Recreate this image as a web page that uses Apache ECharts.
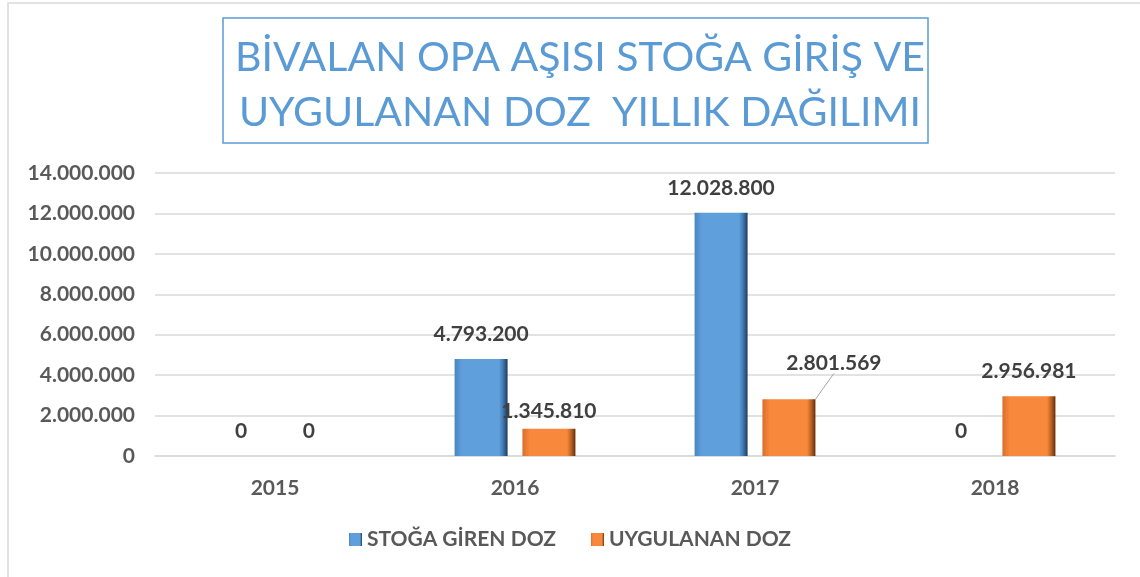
<!DOCTYPE html>
<html>
<head>
    <meta charset="utf-8">
    <script src="https://cdn.jsdelivr.net/npm/echarts@6/dist/echarts.min.js"></script>
</head>
<body style="margin:0;background:#fff;">
    <div id="main" style="width:1140px;height:577px;"></div>
    <script type="text/javascript">
        // veriler
        var years = ['2015', '2016', '2017', '2018'];
        var stogaGiren = [0, 4793200, 12028800, 0];
        var uygulanan = [0, 1345810, 2801569, 2956981];
        var seriesNames = ['STOĞA GİREN DOZ', 'UYGULANAN DOZ'];
        var titleLines = ['BİVALAN OPA AŞISI STOĞA GİRİŞ VE', 'UYGULANAN DOZ  YILLIK DAĞILIMI'];

        var myChart = echarts.init(document.getElementById('main'));

        function dotted(v) {
            return String(Math.round(v)).replace(/\B(?=(\d{3})+(?!\d))/g, '.');
        }

        function bevel(c0, c1, c2, c3) {
            return new echarts.graphic.LinearGradient(0, 0, 1, 0, [
                { offset: 0, color: c0 },
                { offset: 0.14, color: c1 },
                { offset: 0.84, color: c1 },
                { offset: 0.93, color: c2 },
                { offset: 1, color: c3 }
            ]);
        }

        var labelStyle = {
            show: true,
            position: 'top',
            distance: 14,
            fontFamily: 'Lato',
            fontWeight: 'bold',
            fontSize: 21,
            color: '#404040',
            formatter: function (p) { return dotted(p.value); }
        };

        // 2017 etiketi kenara kaydırılmış, çizgili
        var uygulananData = uygulanan.map(function (v, i) {
            if (i === 2) {
                return { value: v, labelLine: { show: true, lineStyle: { color: '#a6a6a6', width: 1 } } };
            }
            return v;
        });

        option = {
            animation: false,
            backgroundColor: '#fff',
            graphic: [{
                type: 'rect',
                shape: { x: 8, y: 3, width: 1200, height: 700 },
                style: { fill: 'none', stroke: '#d9d9d9', lineWidth: 1.5 }
            }, {
                type: 'rect',
                shape: { x: 223, y: 18, width: 705, height: 125 },
                style: { fill: 'none', stroke: '#5b9bd5', lineWidth: 1.5 }
            }],
            title: {
                text: titleLines.join('\n'),
                left: 575,
                top: 25,
                textAlign: 'center',
                textStyle: {
                    fontFamily: 'Lato',
                    fontWeight: 'normal',
                    fontSize: 41,
                    lineHeight: 55,
                    color: '#5b9bd5'
                }
            },
            legend: {
                data: seriesNames,
                bottom: 22,
                left: 'center',
                itemWidth: 13,
                itemHeight: 13,
                itemGap: 35,
                icon: 'rect',
                textStyle: {
                    fontFamily: 'Lato',
                    fontWeight: 'bold',
                    fontSize: 21,
                    color: '#595959'
                }
            },
            grid: {
                left: 155,
                right: 25,
                top: 173,
                bottom: 121
            },
            xAxis: {
                type: 'category',
                data: years,
                axisTick: { show: false },
                axisLine: { lineStyle: { color: '#d9d9d9', width: 1.5 } },
                axisLabel: {
                    margin: 22,
                    fontFamily: 'Lato',
                    fontWeight: 'bold',
                    fontSize: 21,
                    color: '#595959'
                }
            },
            yAxis: {
                type: 'value',
                min: 0,
                max: 14000000,
                interval: 2000000,
                axisLine: { show: false },
                axisTick: { show: false },
                splitLine: { lineStyle: { color: '#d9d9d9', width: 1.5 } },
                axisLabel: {
                    margin: 20,
                    fontFamily: 'Lato',
                    fontWeight: 'bold',
                    fontSize: 21,
                    color: '#595959',
                    formatter: dotted
                }
            },
            series: [{
                name: seriesNames[0],
                type: 'bar',
                data: stogaGiren,
                barWidth: 53,
                barGap: '28%',
                itemStyle: {
                    color: bevel('#4a86c0', '#5e9fdc', '#3a6ea3', '#1d3a5c')
                },
                label: labelStyle
            }, {
                name: seriesNames[1],
                type: 'bar',
                data: uygulananData,
                barWidth: 53,
                barGap: '28%',
                itemStyle: {
                    color: bevel('#d8702a', '#f8883c', '#b25c1e', '#5e2f0c')
                },
                label: labelStyle,
                labelLayout: function (p) {
                    if (p.dataIndex === 1) return { dy: 7 };
                    if (p.dataIndex === 2) return { dx: 45, dy: -12 };
                    return {};
                },
                labelLine: { show: false }
            }]
        };

        myChart.setOption(option);
    </script>
</body>
</html>
